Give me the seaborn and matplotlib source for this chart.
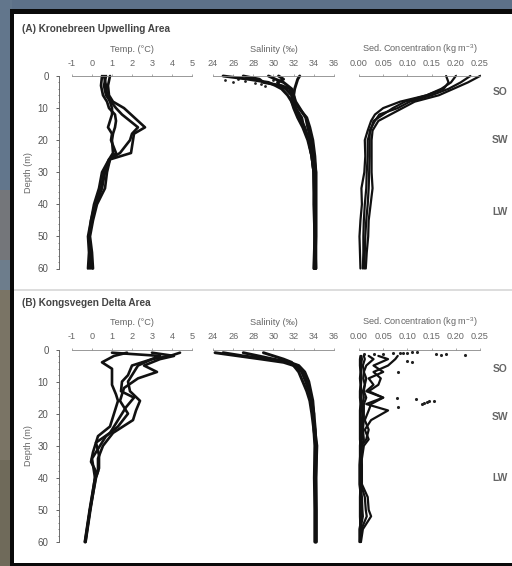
import matplotlib
matplotlib.use("Agg")
import matplotlib.pyplot as plt
from matplotlib.patches import Rectangle
import seaborn as sns
import pandas as pd

# depth profiles, (depth list, value list) per cast

# (A) Kronebreen
a_temp_d = [0, 3, 6, 8, 10, 12, 14, 16, 18, 20, 24, 26, 30, 35, 40, 45, 50, 55, 60]
a_temp_1 = [0.5, 0.45, 0.55, 0.75, 0.85, 1.15, 1.2, 1.15, 1.05, 1.0, 1.05, 0.85, 0.6, 0.45, 0.15, -0.05, -0.2, -0.15, -0.2]
a_temp_2 = [0.9, 0.8, 0.85, 1.05, 1.6, 1.95, 2.3, 2.65, 2.1, 2.05, 1.95, 0.9, 0.75, 0.65, 0.25, 0.05, -0.1, 0.0, 0.05]
a_temp_3 = [0.7, 0.6, 0.7, 0.95, 1.2, 1.5, 1.9, 2.3, 2.0, 1.9, 1.4, 0.85, 0.5, 0.35, 0.1, -0.05, -0.15, -0.1, -0.1]
a_temp_4 = [0.6, 0.7, 0.75, 0.9, 1.0, 1.0, 0.9, 0.8, 1.0, 0.95, 1.2, 0.9, 0.65, 0.5, 0.2, 0.0, -0.15, -0.05, 0.0]

a_sal_d = [0, 1, 2, 3, 4, 6, 8, 10, 13, 16, 20, 25, 30, 40, 50, 60]
a_sal_1 = [32.6, 32.4, 32.3, 32.2, 32.1, 32.0, 32.1, 32.5, 33.3, 33.6, 33.9, 34.1, 34.2, 34.2, 34.2, 34.2]
a_sal_2 = [25.0, 27.5, 29.5, 30.2, 30.8, 31.4, 31.8, 32.0, 32.4, 32.9, 33.4, 33.8, 34.0, 34.1, 34.1, 34.05]
a_sal_3 = [27.0, 28.6, 29.0, 30.8, 31.6, 31.9, 32.0, 32.2, 32.8, 33.0, 33.5, 33.8, 34.0, 34.0, 34.1, 34.0]
a_sal_4 = [29.5, 30.2, 31.0, 31.4, 31.8, 32.0, 32.2, 32.6, 33.2, 33.4, 33.7, 34.0, 34.2, 34.2, 34.2, 34.1]
a_sal_5 = [30.5, 31.0, 30.4, 30.6, 31.2, 31.8, 31.8, 32.1, 32.6, 33.1, 33.5, 33.8, 34.0, 34.1, 34.1, 34.2]

a_sed_d = [0, 2, 4, 6, 8, 10, 12, 14, 17, 20, 25, 30, 35, 40, 45, 50, 55, 60]
a_sed_1 = [0.25, 0.225, 0.195, 0.165, 0.115, 0.09, 0.065, 0.04, 0.028, 0.026, 0.026, 0.026, 0.028, 0.024, 0.02, 0.019, 0.016, 0.014]
a_sed_2 = [0.2, 0.19, 0.17, 0.14, 0.095, 0.07, 0.05, 0.03, 0.024, 0.018, 0.018, 0.016, 0.015, 0.012, 0.01, 0.009, 0.009, 0.008]
a_sed_3 = [0.18, 0.185, 0.175, 0.14, 0.085, 0.05, 0.033, 0.025, 0.018, 0.012, 0.013, 0.011, 0.005, 0.006, 0.003, 0.001, 0.002, 0.003]
a_sed_4 = [0.23, 0.21, 0.185, 0.15, 0.105, 0.08, 0.042, 0.033, 0.022, 0.022, 0.022, 0.021, 0.02, 0.018, 0.015, 0.013, 0.012, 0.011]

# (B) Kongsvegen
b_temp_d_1 = [1, 2, 4, 6, 8, 11, 14, 16, 20, 24, 27, 32, 35, 38, 40, 50, 60]
b_temp_1 = [1.75, 1.1, 0.5, 1.0, 1.0, 1.0, 1.2, 1.3, 1.1, 0.9, 0.3, 0.05, -0.05, 0.2, 0.15, -0.1, -0.35]
b_temp_d_2 = [1, 2, 3, 5, 7, 10, 13, 16, 19, 22, 26, 30, 34, 38, 40, 50, 60]
b_temp_2 = [4.4, 3.9, 3.0, 2.3, 2.1, 1.8, 1.9, 2.4, 2.2, 2.05, 1.05, 0.55, 0.3, 0.3, 0.18, -0.08, -0.32]
b_temp_d_3 = [1, 2, 3, 5, 7, 9, 12, 16, 20, 24, 27, 31, 34, 38, 40, 50, 60]
b_temp_3 = [3.0, 4.1, 3.4, 2.6, 3.25, 2.3, 1.6, 1.4, 1.8, 1.3, 0.7, 0.3, 0.0, 0.1, 0.15, -0.12, -0.36]
b_temp_d_4 = [1, 2, 3, 5, 8, 10, 13, 15, 18, 22, 26, 29, 33, 37, 40, 50, 60]
b_temp_4 = [1.0, 3.4, 3.0, 2.0, 1.8, 1.5, 1.45, 2.1, 1.7, 1.3, 0.9, 0.2, 0.35, 0.35, 0.2, -0.1, -0.33]

b_sal_d = [1, 2, 3, 4, 5, 7, 10, 13, 16, 20, 25, 30, 40, 50, 60]
b_sal_1 = [24.2, 26.5, 28.8, 31.0, 32.0, 32.8, 33.2, 33.5, 33.7, 33.9, 34.1, 34.3, 34.2, 34.25, 34.25]
b_sal_2 = [25.0, 27.0, 29.5, 31.5, 32.3, 33.0, 33.4, 33.6, 33.8, 34.0, 34.15, 34.2, 34.15, 34.15, 34.15]
b_sal_3 = [27.0, 28.5, 30.0, 31.6, 32.5, 33.1, 33.5, 33.7, 33.9, 34.0, 34.0, 34.25, 34.2, 34.2, 34.2]
b_sal_4 = [29.0, 30.0, 31.0, 31.8, 32.0, 32.5, 32.9, 33.3, 33.6, 33.8, 34.0, 34.1, 34.05, 34.1, 34.1]

b_sed_d = [2, 3, 5, 7, 9, 11, 13, 15, 17, 19, 22, 25, 28, 30, 36, 42, 46, 50, 52, 56, 60]
b_sed_1 = [0.08, 0.075, 0.06, 0.03, 0.045, 0.04, 0.02, 0.05, 0.025, 0.02, 0.012, 0.02, 0.015, 0.005, 0.006, 0.006, 0.018, 0.02, 0.025, 0.008, 0.004]
b_sed_2 = [0.04, 0.06, 0.03, 0.05, 0.02, 0.03, 0.015, 0.05, 0.015, 0.06, 0.025, 0.012, 0.02, 0.01, 0.004, 0.004, 0.012, 0.014, 0.016, 0.005, 0.003]
b_sed_3 = [0.02, 0.03, 0.015, 0.01, 0.015, 0.012, 0.01, 0.015, 0.01, 0.01, 0.01, 0.008, 0.01, 0.006, 0.003, 0.003, 0.006, 0.007, 0.008, 0.003, 0.002]
b_sed_4 = [0.005, 0.006, 0.004, 0.004, 0.005, 0.004, 0.004, 0.005, 0.004, 0.004, 0.003, 0.003, 0.003, 0.002, 0.002, 0.002, 0.003, 0.003, 0.003, 0.002, 0.002]
b_sed_5 = [0.003, 0.002, 0.002, 0.003, 0.002, 0.003, 0.002, 0.002, 0.003, 0.002, 0.002, 0.002, 0.002, 0.003, 0.003, 0.003, 0.002, 0.002, 0.002, 0.003, 0.003]
b_sed_6 = [0.01, 0.012, 0.008, 0.01, 0.009, 0.012, 0.008, 0.01, 0.007, 0.008, 0.006, 0.006, 0.006, 0.004, 0.001, 0.001, 0.004, 0.005, 0.006, 0.001, 0.001]

# loose points near the surface and at 16 m
b_sed_dots_x = [0.01, 0.03, 0.05, 0.07, 0.085, 0.09, 0.1, 0.11, 0.12, 0.16, 0.17, 0.18, 0.22, 0.1, 0.11, 0.08, 0.078, 0.118, 0.13, 0.135, 0.14, 0.145, 0.155, 0.08]
b_sed_dots_y = [1.5, 1.3, 1.4, 1.2, 1.0, 1.2, 1.0, 0.8, 0.9, 1.5, 1.6, 1.4, 1.7, 3.7, 3.8, 7.0, 15.0, 15.5, 17.0, 16.8, 16.3, 15.9, 16.2, 17.8]
a_sal_dots_x = [25.2, 26.0, 26.5, 27.2, 27.8, 28.2, 28.8, 29.2, 29.6, 30.0]
a_sal_dots_y = [1.2, 1.8, 1.0, 1.5, 0.9, 2.1, 2.6, 3.0, 2.2, 1.4]

temp_ticks = [-1, 0, 1, 2, 3, 4, 5]
sal_ticks = [24, 26, 28, 30, 32, 34, 36]
sed_ticks = [0.00, 0.05, 0.10, 0.15, 0.20, 0.25]
depth_ticks = [0, 10, 20, 30, 40, 50, 60]
water_labels = ["SO", "SW", "LW"]
a_water_depths = [5, 20, 42.5]
b_water_depths = [6, 21, 40]


def profiles(casts):
    # long table for seaborn, one row per reading
    rows = []
    for i, (d, v) in enumerate(casts):
        for depth, value in zip(d, v):
            rows.append({"cast": i, "depth": depth, "value": value})
    return pd.DataFrame(rows)


def draw_cast(ax, casts, lw):
    sns.lineplot(data=profiles(casts), x="value", y="depth", units="cast", estimator=None,
                 sort=False, color="#111111", linewidth=lw, ax=ax, legend=False)


def px_axes(fig, left, top, width, height):
    W, H = fig.get_size_inches() * fig.dpi
    return fig.add_axes([left / W, 1 - (top + height) / H, width / W, height / H])


def style_top(ax, ticks, fmt, label, left=False):
    ax.set_xlim(ticks[0], ticks[-1])
    ax.set_ylim(60, 0)
    ax.xaxis.set_ticks_position("top")
    ax.xaxis.set_label_position("top")
    ax.set_xticks(ticks)
    ax.set_xticklabels([fmt % t for t in ticks])
    ax.set_xlabel(label, fontsize=6.6, color="#666666", labelpad=5)
    ax.tick_params(axis="x", labelsize=6.6, labelcolor="#666666", length=1.5, width=0.5, color="#888888", pad=4.5)
    ax.patch.set_alpha(0)
    for s in ["right", "bottom", "left"]:
        ax.spines[s].set_visible(False)
    ax.spines["top"].set_color("#888888")
    ax.spines["top"].set_linewidth(0.6)
    for art in ax.lines + ax.collections:
        art.set_clip_on(False)
    if left:
        ax.spines["left"].set_visible(True)
        ax.spines["left"].set_position(("outward", 9.4))
        ax.spines["left"].set_color("#555555")
        ax.spines["left"].set_linewidth(0.6)
        ax.set_yticks(depth_ticks)
        ax.set_yticks(range(0, 61, 2), minor=True)
        ax.tick_params(axis="y", which="major", labelsize=7, labelcolor="#555555", length=2, width=0.5, pad=5.5, left=True)
        ax.tick_params(axis="y", which="minor", length=1, width=0.4, left=True)
        ax.set_ylabel("Depth (m)", fontsize=6.6, color="#666666", labelpad=3)
    else:
        ax.set_yticks([])
        ax.set_ylabel("")


sns.set_theme(style="white")
plt.rcParams["font.family"] = ["Liberation Sans", "DejaVu Sans"]
plt.rcParams["mathtext.default"] = "regular"

fig = plt.figure(figsize=(5.12, 5.66), dpi=100, facecolor="#5d7189")
W, H = 512, 566

# photo behind the slide, just colour bands down the left side
for top, h, c in [(0, 190, "#62768c"), (190, 70, "#74767a"), (260, 30, "#6d7d8c"),
                  (290, 170, "#7a7465"), (460, 106, "#6f6a5a")]:
    fig.add_artist(Rectangle((0, 1 - (top + h) / H), 12 / W, h / H, transform=fig.transFigure, color=c, lw=0, zorder=-5))
fig.add_artist(Rectangle((10 / W, 0), (W - 10) / W, 1 - 9 / H, transform=fig.transFigure, color="#0a0a0a", lw=0, zorder=-4))
fig.add_artist(Rectangle((14 / W, 3 / H), (W - 14) / W, 1 - 17 / H, transform=fig.transFigure, color="white", lw=0, zorder=-3))
fig.add_artist(Rectangle((14 / W, 1 - 291 / H), (W - 14) / W, 2 / H, transform=fig.transFigure, color="#dddddd", lw=0, zorder=-2))

sed_label = "Sed. Concentration (kg m$^{-3}$)"

panels = [
    (76, "(A) Kronebreen Upwelling Area", 29.5,
     [(a_temp_d, a_temp_1), (a_temp_d, a_temp_2), (a_temp_d, a_temp_3), (a_temp_d, a_temp_4)],
     [(a_sal_d, a_sal_1), (a_sal_d, a_sal_2), (a_sal_d, a_sal_3), (a_sal_d, a_sal_4), (a_sal_d, a_sal_5)],
     [(a_sed_d, a_sed_1), (a_sed_d, a_sed_2), (a_sed_d, a_sed_3), (a_sed_d, a_sed_4)],
     a_water_depths),
    (349.5, "(B) Kongsvegen Delta Area", 302.5,
     [(b_temp_d_1, b_temp_1), (b_temp_d_2, b_temp_2), (b_temp_d_3, b_temp_3), (b_temp_d_4, b_temp_4)],
     [(b_sal_d, b_sal_1), (b_sal_d, b_sal_2), (b_sal_d, b_sal_3), (b_sal_d, b_sal_4)],
     [(b_sed_d, b_sed_1), (b_sed_d, b_sed_2), (b_sed_d, b_sed_3), (b_sed_d, b_sed_4), (b_sed_d, b_sed_5), (b_sed_d, b_sed_6)],
     b_water_depths),
]

for top, title, title_y, temp, sal, sed, water in panels:
    ax1 = px_axes(fig, 72, top, 120, 192.5)
    ax2 = px_axes(fig, 213, top, 121, 192.5)
    ax3 = px_axes(fig, 359, top, 121, 192.5)

    draw_cast(ax1, temp, 1.9)
    draw_cast(ax2, sal, 2.1)
    draw_cast(ax3, sed, 1.6)

    if top < 100:
        sns.scatterplot(x=a_sal_dots_x, y=a_sal_dots_y, s=4, color="#222222", linewidth=0, ax=ax2)
    else:
        sns.scatterplot(x=b_sed_dots_x, y=b_sed_dots_y, s=5, color="#222222", linewidth=0, ax=ax3)

    style_top(ax1, temp_ticks, "%d", "Temp. (°C)", left=True)
    style_top(ax2, sal_ticks, "%d", "Salinity (‰)")
    style_top(ax3, sed_ticks, "%.2f", sed_label)

    for lab, d in zip(water_labels, water):
        ax3.text(1.165, d, lab, transform=ax3.get_yaxis_transform(), ha="center", va="center",
                 fontsize=7.4, color="#666666", fontweight="bold")
    fig.text(22 / W, 1 - title_y / H, title, fontsize=7.2, fontweight="bold", color="#444444", va="center")

fig.savefig("out.png", dpi=100, facecolor=fig.get_facecolor())
